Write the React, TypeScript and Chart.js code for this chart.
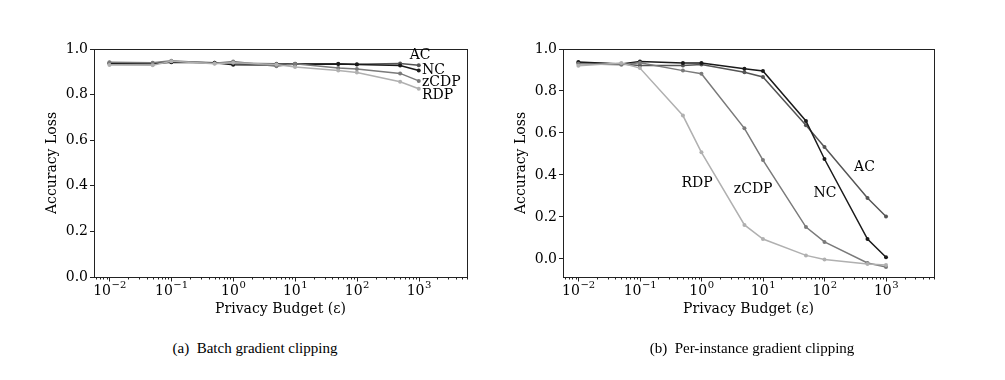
import React, { useEffect, useRef } from "react";
import { Chart, registerables } from "chart.js";

Chart.register(...registerables);

const xValues = [0.01, 0.05, 0.1, 0.5, 1, 5, 10, 50, 100, 500, 1000];
const seriesNames = ["AC", "NC", "zCDP", "RDP"];
const seriesColors = ["#555555", "#1a1a1a", "#7a7a7a", "#b0b0b0"];

// (a) Batch gradient clipping
const batchAC = [0.94, 0.938, 0.944, 0.94, 0.938, 0.935, 0.935, 0.935, 0.933, 0.936, 0.929];
const batchNC = [0.935, 0.935, 0.942, 0.94, 0.931, 0.93, 0.933, 0.934, 0.932, 0.928, 0.906];
const batchZCDP = [0.942, 0.94, 0.949, 0.938, 0.945, 0.924, 0.935, 0.917, 0.912, 0.893, 0.86];
const batchRDP = [0.93, 0.929, 0.946, 0.935, 0.94, 0.932, 0.921, 0.906, 0.897, 0.856, 0.826];

// (b) Per-instance gradient clipping
const instAC = [0.935, 0.928, 0.922, 0.922, 0.926, 0.889, 0.867, 0.637, 0.533, 0.29, 0.202];
const instNC = [0.938, 0.928, 0.941, 0.933, 0.933, 0.906, 0.895, 0.657, 0.476, 0.095, 0.008];
const instZCDP = [0.93, 0.925, 0.935, 0.897, 0.882, 0.622, 0.471, 0.152, 0.081, -0.019, -0.038];
const instRDP = [0.92, 0.933, 0.909, 0.683, 0.508, 0.162, 0.095, 0.017, -0.003, -0.024, -0.029];

const xTickValues = [0.01, 0.1, 1, 10, 100, 1000];
const xTickExponents = ["\u22122", "\u22121", "0", "1", "2", "3"];
const yTickValues = [0, 0.2, 0.4, 0.6, 0.8, 1.0];
const yTickLabels = ["0.0", "0.2", "0.4", "0.6", "0.8", "1.0"];

// label annotations: [text, x (data), y (data), align]
const batchLabels: [string, number, number, string][] = [
  ["AC", 714, 0.97, "left"],
  ["NC", 1124, 0.906, "left"],
  ["zCDP", 1124, 0.855, "left"],
  ["RDP", 1124, 0.795, "left"],
];
const instLabels: [string, number, number, string][] = [
  ["RDP", 0.85, 0.359, "center"],
  ["zCDP", 6.93, 0.333, "center"],
  ["NC", 101.9, 0.311, "center"],
  ["AC", 447, 0.435, "center"],
];

const FONT = "DejaVu Serif";

function makeChart(
  canvas: HTMLCanvasElement,
  series: number[][],
  labels: [string, number, number, string][],
  yMin: number,
  padLeft: number,
  padRight: number
) {
  const order = [3, 2, 1, 0];
  const datasets = order.map((i) => ({
    label: seriesNames[i],
    data: xValues.map((x, k) => ({ x, y: series[i][k] })),
    borderColor: seriesColors[i],
    backgroundColor: seriesColors[i],
    borderWidth: 1.5,
    pointRadius: 2,
    pointHoverRadius: 2,
    pointBorderWidth: 0,
    tension: 0,
  }));

  const framePlugin = {
    id: "frame",
    afterDraw(chart: any) {
      const { ctx, chartArea } = chart;
      const xs = chart.scales.x;
      const ys = chart.scales.y;
      ctx.save();
      ctx.strokeStyle = "#222";
      ctx.lineWidth = 1;
      ctx.strokeRect(
        Math.round(chartArea.left) + 0.5,
        Math.round(chartArea.top) + 0.5,
        Math.round(chartArea.right - chartArea.left),
        Math.round(chartArea.bottom - chartArea.top)
      );
      // x ticks (major + minor)
      ctx.beginPath();
      const bottom = Math.round(chartArea.bottom) + 0.5;
      for (let d = -3; d <= 4; d++) {
        for (let k = 1; k <= 9; k++) {
          const v = k * Math.pow(10, d);
          if (v < xs.min || v > xs.max) continue;
          const px = Math.round(xs.getPixelForValue(v)) + 0.5;
          const len = k === 1 ? 4 : 2;
          ctx.moveTo(px, bottom);
          ctx.lineTo(px, bottom + len);
        }
      }
      ctx.stroke();
      // x tick labels: 10 with superscript exponent
      ctx.fillStyle = "#000";
      ctx.textAlign = "left";
      ctx.textBaseline = "alphabetic";
      xTickValues.forEach((v, i) => {
        const px = xs.getPixelForValue(v);
        ctx.font = `14px '${FONT}'`;
        const wBase = ctx.measureText("10").width;
        ctx.font = `10px '${FONT}'`;
        const wExp = ctx.measureText(xTickExponents[i]).width;
        const x0 = px - (wBase + wExp) / 2;
        ctx.font = `14px '${FONT}'`;
        ctx.fillText("10", x0, chartArea.bottom + 18);
        ctx.font = `10px '${FONT}'`;
        ctx.fillText(xTickExponents[i], x0 + wBase + 0.5, chartArea.bottom + 11);
      });
      // text labels
      ctx.font = `14px '${FONT}'`;
      ctx.textBaseline = "middle";
      labels.forEach(([t, x, y, a]) => {
        ctx.textAlign = a as CanvasTextAlign;
        ctx.fillText(t, xs.getPixelForValue(x), ys.getPixelForValue(y));
      });
      ctx.restore();
    },
  };

  return new Chart(canvas, {
    type: "line",
    data: { datasets },
    options: {
      animation: false,
      responsive: false,
      events: [],
      layout: { padding: { left: padLeft, right: padRight, top: 49, bottom: 0 } },
      plugins: { legend: { display: false }, tooltip: { enabled: false } },
      scales: {
        x: {
          type: "logarithmic",
          min: Math.pow(10, -2.25),
          max: Math.pow(10, 3.78),
          afterBuildTicks: (s: any) => {
            s.ticks = xTickValues.map((v) => ({ value: v }));
          },
          afterFit: (s: any) => {
            s.height = 53;
          },
          ticks: { display: false },
          grid: { display: false, drawTicks: false, tickLength: 0 },
          border: { display: false },
          title: {
            display: true,
            text: "Privacy Budget (\u03B5)",
            color: "#000",
            font: { family: FONT, size: 14 },
            padding: { top: 0, bottom: 12 },
          },
        },
        y: {
          type: "linear",
          min: yMin,
          max: 1.0,
          afterBuildTicks: (s: any) => {
            s.ticks = yTickValues.map((v) => ({ value: v }));
          },
          afterFit: (s: any) => {
            s.width = 54;
          },
          ticks: {
            padding: 2,
            color: "#000",
            font: { family: FONT, size: 14 },
            callback: (v: any) => {
              const i = yTickValues.findIndex((t) => Math.abs(t - v) < 1e-6);
              return i >= 0 ? yTickLabels[i] : "";
            },
          },
          grid: {
            display: true,
            drawOnChartArea: false,
            drawTicks: true,
            tickLength: 4,
            tickColor: "#222",
            color: "#222",
          },
          border: { display: false },
          title: {
            display: true,
            text: "Accuracy Loss",
            color: "#000",
            font: { family: FONT, size: 14 },
            padding: { top: 4, bottom: 0 },
          },
        },
      },
    },
    plugins: [framePlugin],
  } as any);
}

export default function App() {
  const ref1 = useRef<HTMLCanvasElement>(null);
  const ref2 = useRef<HTMLCanvasElement>(null);

  useEffect(() => {
    const c1 = makeChart(
      ref1.current!,
      [batchAC, batchNC, batchZCDP, batchRDP],
      batchLabels,
      0,
      40,
      33
    );
    const c2 = makeChart(
      ref2.current!,
      [instAC, instNC, instZCDP, instRDP],
      instLabels,
      -0.086,
      39,
      36
    );
    return () => {
      c1.destroy();
      c2.destroy();
    };
  }, []);

  const captionStyle: React.CSSProperties = {
    position: "absolute",
    top: 340,
    width: 300,
    textAlign: "center",
    fontFamily: "'Liberation Serif', serif",
    fontSize: 15,
    color: "#000",
    whiteSpace: "pre",
  };

  return (
    <div style={{ position: "absolute", left: 0, top: 0, width: 1005, height: 380, background: "#fff" }}>
      <canvas ref={ref1} width={500} height={330} style={{ position: "absolute", left: 0, top: 0 }} />
      <canvas ref={ref2} width={500} height={330} style={{ position: "absolute", left: 470, top: 0 }} />
      <div style={{ ...captionStyle, left: 255 - 150 }}>{"(a)  Batch gradient clipping"}</div>
      <div style={{ ...captionStyle, left: 752 - 150 }}>{"(b)  Per-instance gradient clipping"}</div>
    </div>
  );
}
